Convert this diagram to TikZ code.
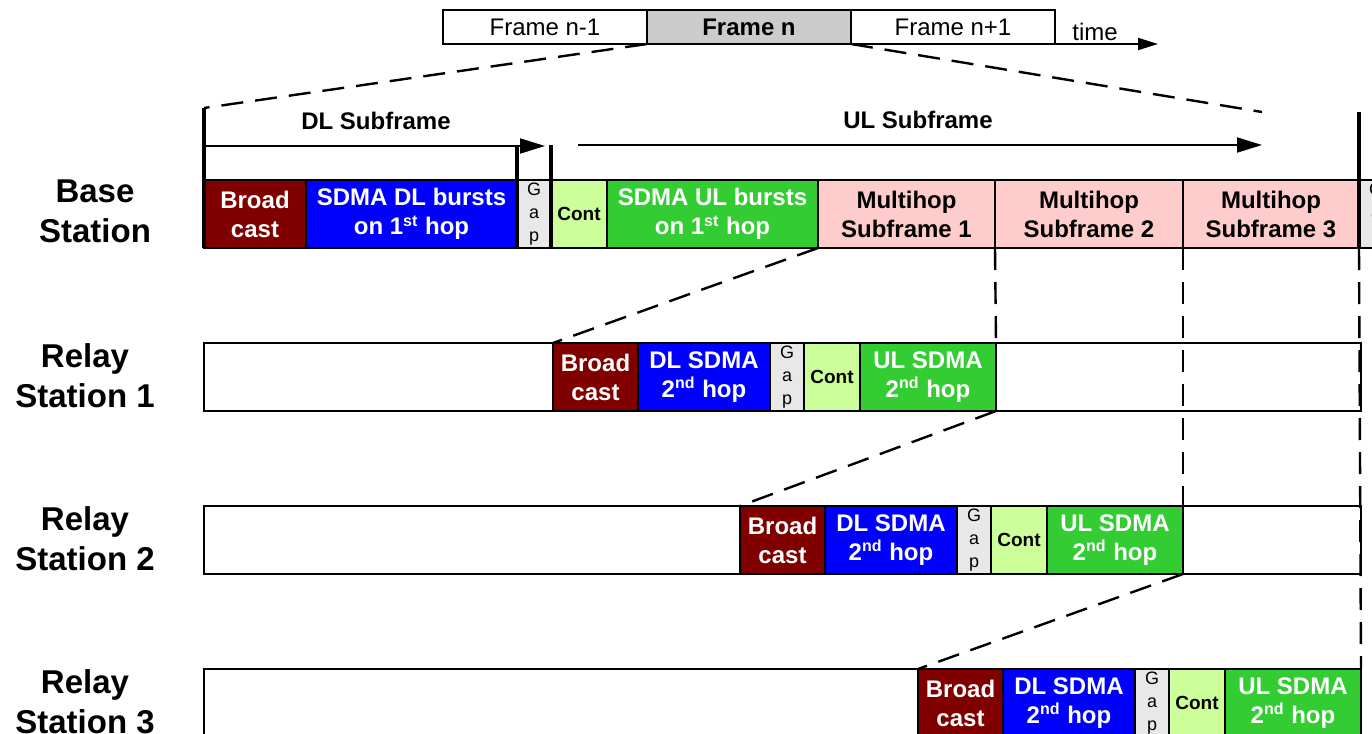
\documentclass[tikz,border=0pt]{standalone}
\usepackage{fontspec}
\setmainfont{Liberation Sans}
\usetikzlibrary{arrows.meta}
\definecolor{bcred}{HTML}{800000}
\definecolor{dlblue}{HTML}{0000FF}
\definecolor{gapgray}{HTML}{E8E8E8}
\definecolor{contgreen}{HTML}{CCFF99}
\definecolor{ulgreen}{HTML}{33CC33}
\definecolor{mhpink}{HTML}{FFCCCC}
\definecolor{frgray}{HTML}{CCCCCC}
\begin{document}
\begin{tikzpicture}[x=0.5pt,y=-0.5pt,
  blk/.style={draw=black, line width=0.75pt, minimum height=34pt, inner sep=0pt, outer sep=0pt,
    anchor=north west, align=center, font=\bfseries\fontsize{12}{14.5}\selectfont},
  bcast/.style={blk, fill=bcred, text=white},
  dlb/.style={blk, fill=dlblue, text=white},
  gapb/.style={blk, fill=gapgray, text=black, minimum width=17pt, font=\fontsize{9}{11.5}\selectfont},
  contb/.style={blk, fill=contgreen, text=black, minimum width=28pt, font=\bfseries\fontsize{9.5}{11}\selectfont},
  ulb/.style={blk, fill=ulgreen, text=white},
  mhb/.style={blk, fill=mhpink, text=black},
  rowbox/.style={draw=black, line width=0.75pt, fill=white, minimum height=34pt, minimum width=578.5pt, inner sep=0pt, outer sep=0pt, anchor=north west},
  frm/.style={draw=black, line width=0.75pt, minimum height=17pt, minimum width=102pt, inner sep=0pt, outer sep=0pt, anchor=north west, font=\fontsize{12}{14}\selectfont},
  lbl/.style={align=center, inner sep=0pt, font=\bfseries\fontsize{16.5}{20}\selectfont},
  sublbl/.style={inner sep=0pt, font=\bfseries\fontsize{12}{14}\selectfont},
  dsh/.style={line width=1.2pt, dash pattern=on 11pt off 6pt},
  thick bar/.style={line width=2pt},
  arr/.style={line width=1pt, -{Triangle[length=12.5pt,width=7.5pt]}}
]
\useasboundingbox (0,0) rectangle (1372,734);

% top frames
\node[frm] (f1) at (443,10) {Frame n-1};
\node[frm, fill=frgray, font=\bfseries\fontsize{12}{14}\selectfont] (f2) at (f1.north east) {Frame n};
\node[frm] (f3) at (f2.north east) {Frame n+1};
\node[anchor=base, inner sep=0pt, font=\fontsize{12}{14}\selectfont] (tm) at (1095,40) {time};
\coordinate (tend) at (1158,44);
\draw[line width=1pt, -{Triangle[length=10pt,width=6pt]}] (f3.south east) -- (tend);

% station labels
\node[lbl] (lbs) at (95,211) {Base\\Station};
\node[lbl] (lr1) at (85,376) {Relay\\Station 1};
\node[lbl] (lr2) at (85,539) {Relay\\Station 2};
\node[lbl] (lr3) at (85,702) {Relay\\Station 3};

% base station row
\node[bcast, minimum width=51pt] (b1) at (204,180) {Broad\\cast};
\node[dlb, minimum width=105.5pt] (b2) at (b1.north east) {SDMA DL bursts\\on 1\textsuperscript{st} hop};
\node[gapb] (b3) at (b2.north east) {G\\a\\p};
\node[contb] (b4) at (b3.north east) {Cont};
\node[ulb, minimum width=105.5pt] (b5) at (b4.north east) {SDMA UL bursts\\on 1\textsuperscript{st} hop};
\node[mhb, minimum width=88.5pt] (m1) at (b5.north east) {Multihop\\Subframe 1};
\node[mhb, minimum width=94pt] (m2) at (m1.north east) {Multihop\\Subframe 2};
\node[mhb, minimum width=88pt] (m3) at (m2.north east) {Multihop\\Subframe 3};
\node[gapb] (b9) at (m3.north east) {G\\a\\p};

% relay station 1
\node[rowbox] (r1) at (204,343) {};
\node[bcast, minimum width=42.5pt] (a1) at (553,343) {Broad\\cast};
\node[dlb, minimum width=66pt] (a2) at (a1.north east) {DL SDMA\\2\textsuperscript{nd} hop};
\node[gapb] (a3) at (a2.north east) {G\\a\\p};
\node[contb] (a4) at (a3.north east) {Cont};
\node[ulb, minimum width=68pt] (a5) at (a4.north east) {UL SDMA\\2\textsuperscript{nd} hop};

% relay station 2
\node[rowbox] (r2) at (204,506) {};
\node[bcast, minimum width=42.5pt] (c1) at (740,506) {Broad\\cast};
\node[dlb, minimum width=66pt] (c2) at (c1.north east) {DL SDMA\\2\textsuperscript{nd} hop};
\node[gapb] (c3) at (c2.north east) {G\\a\\p};
\node[contb] (c4) at (c3.north east) {Cont};
\node[ulb, minimum width=68pt] (c5) at (c4.north east) {UL SDMA\\2\textsuperscript{nd} hop};

% relay station 3
\node[rowbox] (r3) at (204,669) {};
\node[bcast, minimum width=42.5pt] (d1) at (918,669) {Broad\\cast};
\node[dlb, minimum width=66pt] (d2) at (d1.north east) {DL SDMA\\2\textsuperscript{nd} hop};
\node[gapb] (d3) at (d2.north east) {G\\a\\p};
\node[contb] (d4) at (d3.north east) {Cont};
\node[ulb, minimum width=68pt] (d5) at (d4.north east) {UL SDMA\\2\textsuperscript{nd} hop};

% subframe arrows and bars
\coordinate (bsTop) at (204,108);
\coordinate (dlA) at (204,146);
\coordinate (dlB) at (545,146);
\coordinate (ulA) at (578,145);
\coordinate (ulB) at (1262,145);
\coordinate (gTopA) at (517,146);
\coordinate (gTopB) at (551,145);
\coordinate (endTop) at (1359,112);
\coordinate (dashEnd) at (1262,112);
\node[sublbl] (dltxt) at (376,121) {DL Subframe};
\node[sublbl] (ultxt) at (918,120) {UL Subframe};
\draw[arr] (dlA) -- (dlB);
\draw[arr] (ulA) -- (ulB);

% dashed connectors
\draw[dsh] (f2.south west) -- (bsTop);
\draw[dsh] (f2.south east) -- (dashEnd);
\draw[dsh] (m1.south west) -- (a1.north west);
\draw[dsh] (m2.south west) -- (a5.north east);
\draw[dsh] (a5.south east) -- (c1.north west);
\draw[dsh] (m3.south west) -- (c5.north east);
\draw[dsh] (c5.south east) -- (d1.north west);
\draw[dsh] (m3.south east) -- (d5.north east);

% thick bars
\draw[thick bar] (bsTop) -- (b1.south west);
\draw[thick bar] (gTopA) -- (b3.south west);
\draw[thick bar] (gTopB) -- (b3.south east);
\draw[thick bar] (endTop) -- (m3.south east);
\end{tikzpicture}
\end{document}
